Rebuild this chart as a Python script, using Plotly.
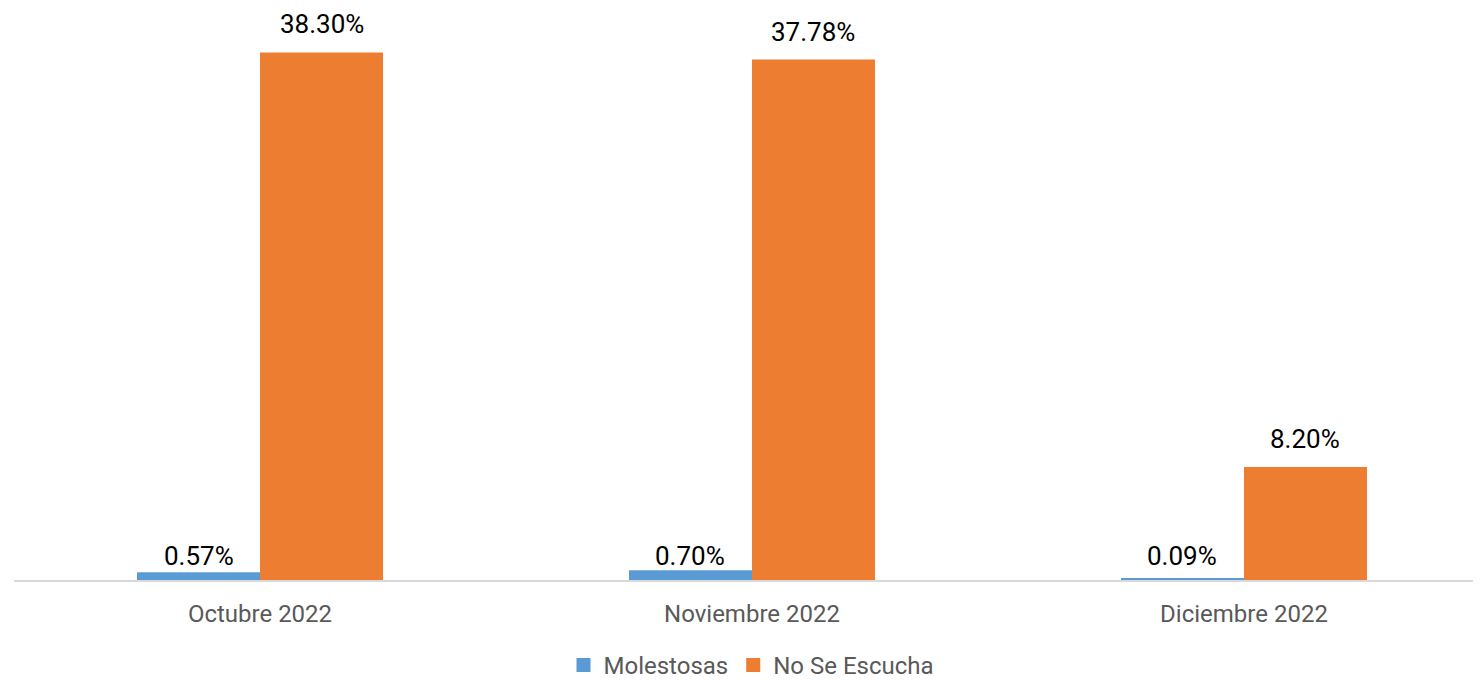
import plotly.graph_objects as go

categories = ["Octubre 2022", "Noviembre 2022", "Diciembre 2022"]
molestosas = [0.57, 0.70, 0.09]
no_se_escucha = [38.30, 37.78, 8.20]
series_names = ["Molestosas", "No Se Escucha"]
colors = ["#5B9BD5", "#ED7D31"]

FONT = "Roboto"
fig = go.Figure()
for name, vals, col in zip(series_names, [molestosas, no_se_escucha], colors):
    fig.add_trace(go.Bar(x=categories, y=vals, name=name, showlegend=False,
                         marker=dict(color=col, line=dict(width=0))))
# legend entries with larger square swatches
for name, col in zip(series_names, colors):
    fig.add_trace(go.Scatter(x=[None], y=[None], mode="markers", name=name,
                             marker=dict(symbol="square", size=14, color=col)))

half = 61.5
# small-series labels sit at a common height just above the axis; large-series labels above bar ends
for c, v in zip(categories, molestosas):
    fig.add_annotation(x=c, y=0, text=f"{v:.2f}%", showarrow=False, xref="x", yref="y",
                       yanchor="bottom", xshift=-half, yshift=7,
                       font=dict(family=FONT, size=26, color="#000000"))
for c, v in zip(categories, no_se_escucha):
    fig.add_annotation(x=c, y=v, text=f"{v:.2f}%", showarrow=False, xref="x", yref="y",
                       yanchor="bottom", xshift=half, yshift=11,
                       font=dict(family=FONT, size=26, color="#000000"))

fig.update_layout(
    width=1481, height=680,
    margin=dict(l=6, r=0, t=21, b=103.5),
    paper_bgcolor="white", plot_bgcolor="white",
    barmode="group", bargap=0.5, bargroupgap=0,
    font=dict(family=FONT, size=24, color="#595959"),
    legend=dict(orientation="h", x=0.5, xanchor="center", y=-0.156, yanchor="middle",
                font=dict(family=FONT, size=24, color="#595959"), itemwidth=30,
                traceorder="normal", tracegroupgap=0),
    xaxis=dict(range=[-0.5, 2.498], showline=True, linecolor="#D9D9D9", linewidth=1.5,
               ticks="", ticklabelstandoff=11, tickfont=dict(size=24, color="#595959"),
               showgrid=False),
    yaxis=dict(range=[0, 40], visible=False, showgrid=False, zeroline=False),
)
fig.write_html("out.html")
